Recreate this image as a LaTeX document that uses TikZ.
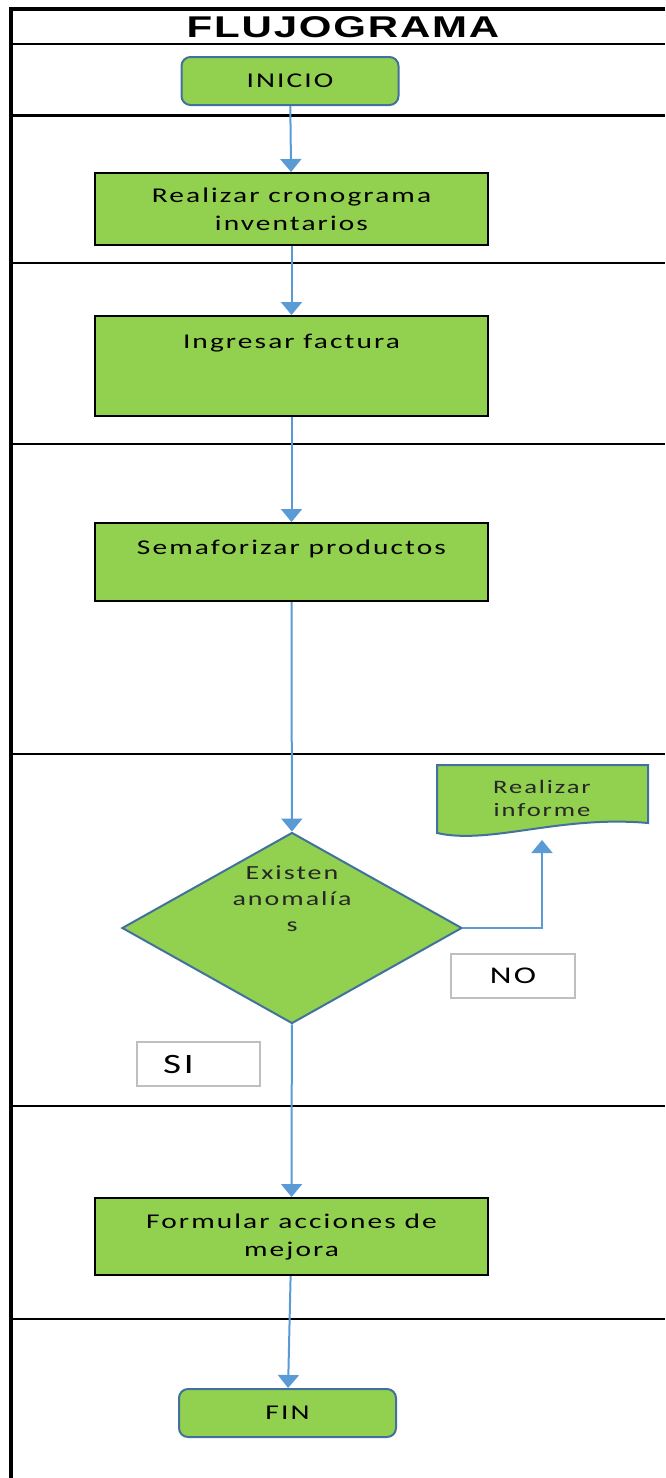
\documentclass[tikz,border=0pt]{standalone}
\usepackage{fontspec}
\setmainfont{Carlito}[FakeStretch=1.4,LetterSpace=10]
\newfontfamily\titlefont{Liberation Sans}[FakeStretch=1.4,LetterSpace=6]
\usetikzlibrary{shapes.geometric,arrows.meta}

\definecolor{boxgreen}{HTML}{92D050}
\definecolor{termblue}{HTML}{41719C}
\definecolor{flowblue}{HTML}{5B9BD5}
\definecolor{answergray}{HTML}{BFBFBF}
\definecolor{textgray}{HTML}{262626}

\begin{document}
\begin{tikzpicture}[x=1pt,y=-1pt,
  frame/.style={line width=4pt,black},
  lane/.style={line width=2.7pt,black},
  term/.style={draw=termblue,line width=2pt,fill=boxgreen,rounded corners=9pt,minimum width=217pt,minimum height=48pt,inner sep=0pt,font=\fontsize{21}{28}\selectfont},
  proc/.style={draw=black,line width=2pt,fill=boxgreen,minimum width=393pt,inner sep=0pt,align=center,font=\fontsize{21}{28}\selectfont},
  answer/.style={draw=answergray,line width=2pt,fill=white,minimum height=44pt,inner ysep=0pt},
  flow/.style={draw=flowblue,line width=2pt,-{Triangle[width=21pt,length=13pt]}}]

  \useasboundingbox (0,0) rectangle (665,1478);

  % lanes
  \draw[frame] (11,9) -- (11,1478);
  \draw[frame] (9,9) -- (665,9);
  \foreach \ly in {44,115.5,263,444,754,1106,1319}
    \draw[lane] (11,\ly) -- (665,\ly);

  \node[font=\titlefont\bfseries\fontsize{30}{32}\selectfont] (title) at (343,27) {FLUJOGRAMA};

  \node[term] (inicio) at (290,81) {INICIO};
  \node[proc,minimum height=72pt] (crono) at (291.5,209) {Realizar cronograma\\inventarios};
  \node[proc,text height=32pt,text depth=68pt] (factura) at (291.5,366) {Ingresar factura};
  \node[proc,text height=31pt,text depth=47pt] (sema) at (291.5,562) {Semaforizar productos};

  \node[diamond,draw=termblue,line width=2pt,fill=boxgreen,minimum width=340pt,minimum height=191pt,inner sep=0pt] (dec) at (292,928) {};
  \node[font=\fontsize{20}{26}\selectfont,text=textgray,align=center] (dectext) at (292,899) {Existen\\anomalía\\s};

  % documento
  \draw[draw=termblue,line width=2pt,fill=boxgreen] (437,765) -- (648,765) -- (648,823)
    .. controls (560,815) and (490,845) .. (437,833) -- cycle;
  \node[font=\fontsize{19}{23}\selectfont,text=textgray,align=center] (inf) at (542,798) {Realizar\\informe};
  \coordinate (infbot) at (542,840);

  \node[answer,minimum width=124pt,font=\fontsize{24}{28}\selectfont] (no) at (513,976) {NO};
  \node[answer,text width=71pt,inner xsep=26pt,align=left,font=\fontsize{28}{30}\selectfont] (si) at (198.5,1064) {SI};

  \node[proc,minimum height=77pt] (form) at (291.5,1236.5) {Formular acciones de\\mejora};
  \node[term] (fin) at (287.5,1413) {FIN};

  \draw[flow] (inicio) -- (crono);
  \draw[flow] (crono) -- (factura);
  \draw[flow] (factura) -- (sema);
  \draw[flow] (sema) -- (dec);
  \draw[flow] (dec.east) -| (infbot);
  \draw[flow] (dec) -- (form);
  \draw[flow] (form) -- (fin);

\end{tikzpicture}
\end{document}
